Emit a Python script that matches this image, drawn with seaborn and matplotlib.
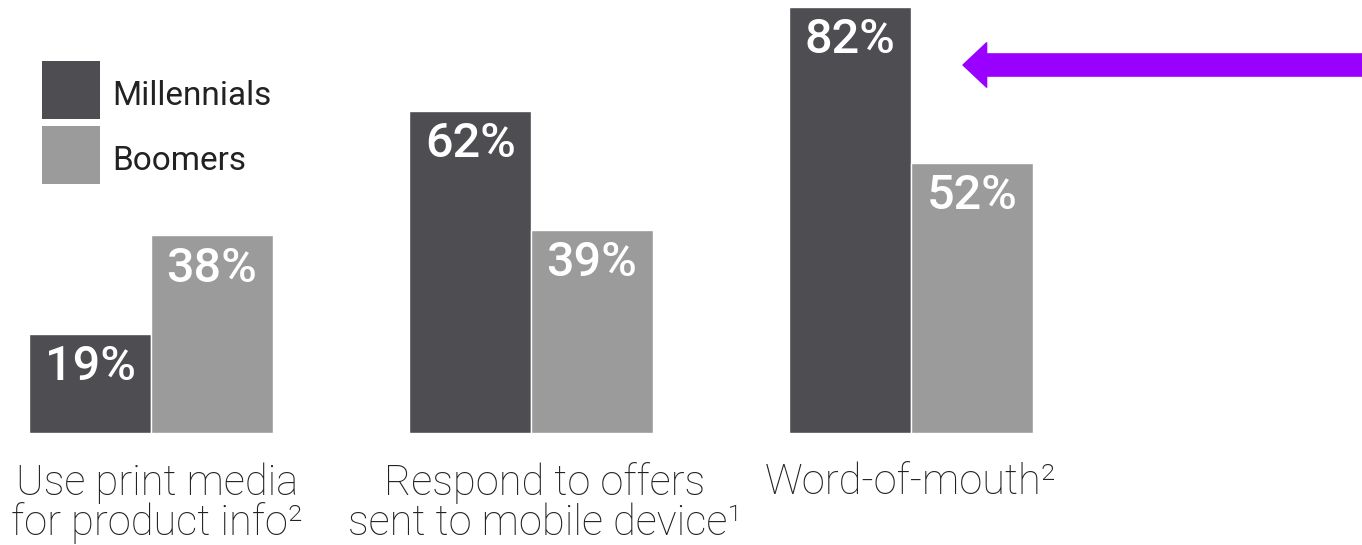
import pandas as pd
import matplotlib.pyplot as plt
import matplotlib.transforms as mtransforms
import seaborn as sns
from matplotlib.patches import Patch

categories = [
    "Use print media\nfor product info²",
    "Respond to offers\nsent to mobile device¹",
    "Word-of-mouth²",
]
groups = ["Millennials", "Boomers"]
millennials = [19, 62, 82]
boomers = [38, 39, 52]

colors = {"Millennials": "#4d4d52", "Boomers": "#9b9b9b"}

rows = []
for cat, m, b in zip(categories, millennials, boomers):
    rows.append({"category": cat, "group": "Millennials", "value": m})
    rows.append({"category": cat, "group": "Boomers", "value": b})
df = pd.DataFrame(rows)

sns.set_style("white")
plt.rcParams["font.family"] = ["Roboto", "DejaVu Sans"]

W, H = 1362, 545
fig = plt.figure(figsize=(W / 100, H / 100), dpi=100)
base_px = 112
ax = fig.add_axes([0, base_px / H, 1, 1 - base_px / H])
ax.set_facecolor("none")

sns.barplot(data=df, x="category", y="value", hue="group",
            hue_order=groups, palette=colors, saturation=1,
            width=0.64, legend=False, ax=ax)

px_per_unit = 380
ax.set_xlim(-151 / px_per_unit, (W - 151) / px_per_unit)
ax.set_ylim(0, (H - base_px) / 5.2)

# values inside the top of each bar
for patch in ax.patches:
    h = patch.get_height()
    if h <= 0:
        continue
    ax.text(patch.get_x() + patch.get_width() / 2, h - 6.4, f"{h:.0f}%",
            ha="center", va="center", color="white", fontsize=35,
            fontweight="medium")

ax.set_xlabel("")
ax.set_ylabel("")
ax.set_yticks([])
ax.tick_params(axis="x", length=0, pad=21, labelsize=30, labelcolor="#222222")
shifts = [6, 14, 0]
for lbl, dx in zip(ax.get_xticklabels(), shifts):
    lbl.set_fontweight("light")
    lbl.set_linespacing(0.95)
    lbl.set_multialignment("center")
    lbl.set_transform(lbl.get_transform() +
                      mtransforms.ScaledTranslation(dx / 100, 0, fig.dpi_scale_trans))
sns.despine(ax=ax, left=True, bottom=True)

handles = [Patch(facecolor=colors[g], edgecolor="none") for g in groups]
leg = ax.legend(handles, groups, loc="upper left",
                bbox_to_anchor=(42 / W, 1 - 61 / H), bbox_transform=fig.transFigure,
                frameon=False, borderpad=0, borderaxespad=0, fontsize=24,
                handlelength=1.74, handleheight=2.3, labelspacing=0.21,
                handletextpad=0.36, labelcolor="#222222")
# nudge the legend text a little lower, like the reference
for t in leg.get_texts():
    t.set_transform(t.get_transform() +
                    mtransforms.ScaledTranslation(0, -5 / 100, fig.dpi_scale_trans))

# purple arrow pointing at word-of-mouth
ax.annotate("", xy=(963, H - 65), xytext=(W, H - 65),
            xycoords="figure pixels", textcoords="figure pixels",
            arrowprops=dict(arrowstyle="simple,head_length=17,head_width=32,tail_width=16",
                            mutation_scale=1, color="#9900ff",
                            shrinkA=0, shrinkB=0))

plt.savefig("out.png", dpi=100)
plt.close()
